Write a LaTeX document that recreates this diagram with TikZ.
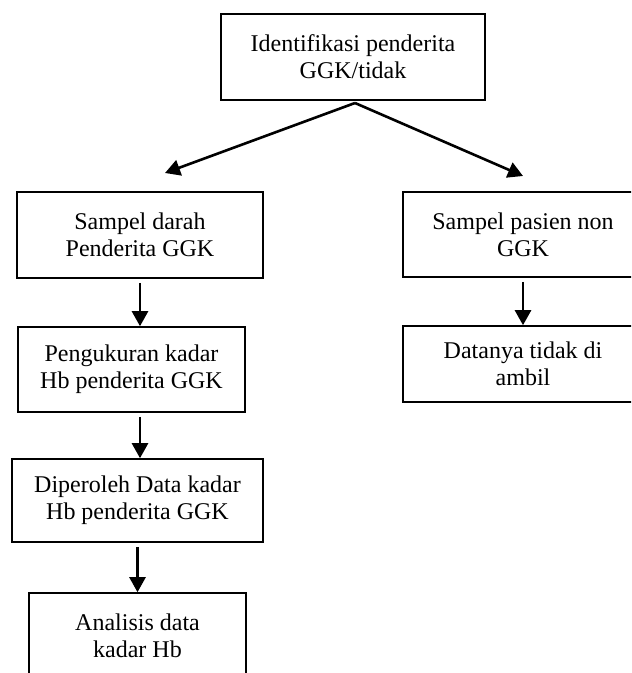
\documentclass[tikz,border=0pt]{standalone}
\usepackage{fontspec}
\setmainfont{Liberation Serif}
\usepackage{tikz}
\usetikzlibrary{arrows.meta,positioning,calc}

\begin{document}
\begin{tikzpicture}[x=0.5pt, y=-0.5pt,
  box/.style={rectangle, draw, line width=0.8pt, align=center, inner sep=0pt, font=\fontsize{12}{13.5}\selectfont},
  arr/.style={-{Triangle[length=7.5pt, width=8pt]}, line width=1.3pt}]
  \useasboundingbox (0,0) rectangle (631,673);
  \clip (0,0) rectangle (631,673);
  % top
  \node[box, minimum width=132pt, minimum height=43pt] (id) at (353,57) {Identifikasi penderita\\GGK/tidak};
  \coordinate (apex) at (355,103);
  \coordinate (tipl) at (165,173);
  \coordinate (tipr) at (523,176);
  \draw[arr] (apex) -- (tipl);
  \draw[arr] (apex) -- (tipr);
  % left column
  \node[box, minimum width=123pt, minimum height=43pt] (darah) at (140,235) {Sampel darah\\Penderita GGK};
  \node[box, minimum width=113.5pt, minimum height=42.5pt] (ukur) at (131.5,369.5) {Pengukuran kadar\\Hb penderita GGK};
  \node[box, minimum width=125.5pt, minimum height=41.5pt] (data) at (137.5,500.5) {Diperoleh Data kadar\\Hb penderita GGK};
  \node[box, minimum width=108.5pt, minimum height=43pt] (analisis) at (137.5,636) {Analisis data\\kadar Hb};
  \draw[arr, shorten <=2pt] (darah.south) -- (darah.south |- ukur.north);
  \draw[arr, shorten <=2pt] (darah.south |- ukur.south) -- (darah.south |- data.north);
  \draw[arr, shorten <=2pt] (data.south) -- (data.south |- analisis.north);
  % right column
  \node[box, minimum width=120pt, minimum height=42.5pt] (nonggk) at (523,234.5) {Sampel pasien non\\GGK};
  \node[box, minimum width=120pt, minimum height=38pt] (tidak) at (523,364) {Datanya tidak di\\ambil};
  \draw[arr, shorten <=2pt] (nonggk.south) -- (tidak.north);
\end{tikzpicture}
\end{document}
